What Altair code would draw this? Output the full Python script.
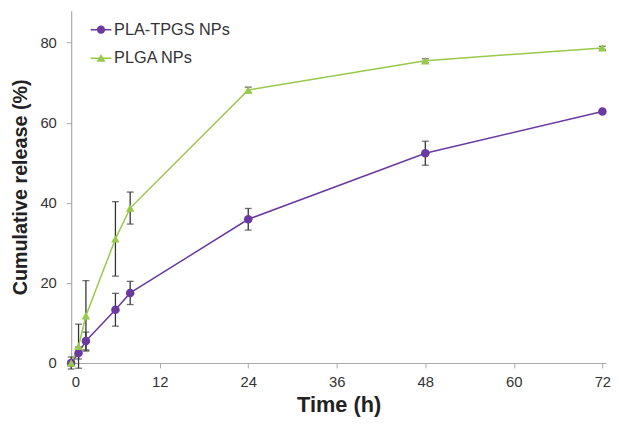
import altair as alt
import pandas as pd

times = [0, 1, 2, 6, 8, 24, 48, 72]
series_names = ["PLA-TPGS NPs", "PLGA NPs"]
pla_tpgs = [0, 2.5, 5.5, 13.3, 17.5, 35.9, 52.4, 62.8]
pla_tpgs_err = [1.5, 1.5, 2.2, 4.1, 2.9, 2.7, 3.0, 0.4]
plga = [0, 4.2, 11.8, 31.0, 38.7, 68.2, 75.5, 78.7]
plga_err = [0.6, 5.5, 8.8, 9.3, 4.0, 0.7, 0.5, 0.4]

rows = []
for t, v, e in zip(times, pla_tpgs, pla_tpgs_err):
    rows.append({"t": t, "v": v, "lo": v - e, "hi": v + e, "s": series_names[0]})
for t, v, e in zip(times, plga, plga_err):
    rows.append({"t": t, "v": v, "lo": v - e, "hi": v + e, "s": series_names[1]})
df = pd.DataFrame(rows)

colors = ["#6a3aa0", "#97c94a"]
font = "Liberation Sans"

# legend glyphs: short line with the marker on it
bar = "M-2.5,-0.17 L2.5,-0.17 L2.5,0.17 L-2.5,0.17 Z "
glyph_circle = bar + "M1,0 A1,1 0 1,1 -1,0 A1,1 0 1,1 1,0 Z"
glyph_tri = bar + "M0,-1.05 L1.1,0.85 L-1.1,0.85 Z"

x = alt.X("t:Q", scale=alt.Scale(domain=[0, 72.5], nice=False),
          axis=alt.Axis(values=[0, 12, 24, 36, 48, 60, 72], title="Time (h)",
                        grid=False))
y = alt.Y("v:Q", scale=alt.Scale(domain=[0, 88], nice=False),
          axis=alt.Axis(values=[0, 20, 40, 60, 80], title="Cumulative release (%)",
                        grid=False))
leg = alt.Legend(title=None, orient="none", legendX=22, legendY=11,
                 labelFontSize=16.5, labelFont=font, labelColor="#333",
                 symbolSize=70, rowPadding=12, labelOffset=5,
                 symbolOpacity=1, symbolStrokeWidth=0)
col = alt.Color("s:N", scale=alt.Scale(domain=series_names, range=colors), legend=leg)
shp_leg = alt.Shape("s:N", scale=alt.Scale(domain=series_names, range=[glyph_circle, glyph_tri]),
                    legend=leg)

base = alt.Chart(df)
err = base.mark_rule(color="#333", strokeWidth=1.3).encode(
    x="t:Q", y=alt.Y("lo:Q"), y2="hi:Q")
cap_hi = base.mark_tick(color="#333", orient="horizontal", size=7, thickness=1.3).encode(
    x="t:Q", y="hi:Q")
cap_lo = base.mark_tick(color="#333", orient="horizontal", size=7, thickness=1.3).encode(
    x="t:Q", y="lo:Q")
line = base.mark_line(strokeWidth=1.5).encode(x=x, y=y, color=col, detail="s:N")
pts_c = base.transform_filter(alt.datum.s == series_names[0]).mark_point(
    filled=True, size=75, opacity=1, shape="circle").encode(x=x, y=y, color=col)
pts_t = base.transform_filter(alt.datum.s == series_names[1]).mark_point(
    filled=True, size=75, opacity=1, shape="triangle-up").encode(x=x, y=y, color=col)
dummy = base.mark_point(filled=True, size=70, opacity=0).encode(x=x, y=y, color=col, shape=shp_leg)

chart = alt.layer(err, cap_hi, cap_lo, line, pts_c, pts_t, dummy).properties(
    width=542, height=357,
    autosize=alt.AutoSizeParams(type="none"),
    padding={"left": 64, "top": 0, "right": 5, "bottom": 52},
).configure_view(stroke=None).configure_axis(
    domainColor="#aaa", tickColor="#aaa", tickSize=5, domainWidth=1.2,
    labelFont=font, labelFontSize=15, labelColor="#333",
    titleFont=font, titleFontWeight="bold", titleColor="#222",
).configure_axisX(labelPadding=7, titlePadding=5, titleFontSize=22).configure_axisY(
    labelPadding=10, titlePadding=10, titleFontSize=20)

chart.save("out.html", embed_options={"renderer": "svg", "actions": False})
